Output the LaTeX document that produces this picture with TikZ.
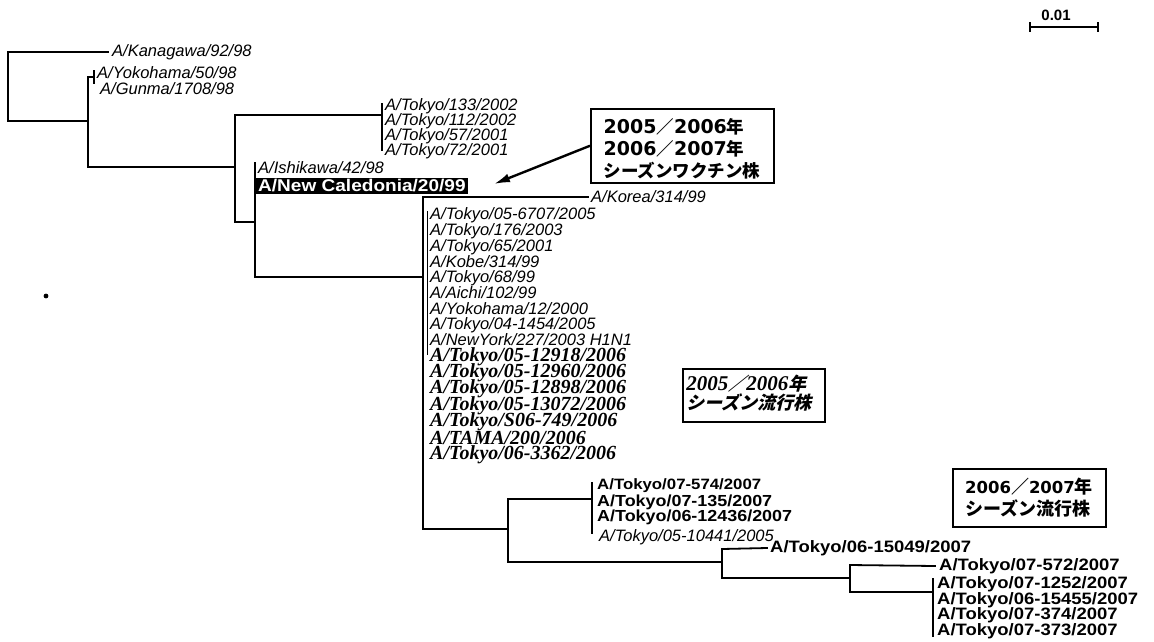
\documentclass[tikz,border=0pt]{standalone}
\usepackage{fontspec}
\usetikzlibrary{arrows.meta}
\setmainfont{Liberation Sans}
\newfontfamily\lsans{Liberation Sans}
\newfontfamily\lsw{Liberation Sans}[FakeStretch=1.12]
\newfontfamily\lserif{Liberation Serif}
\newfontfamily\dvb{DejaVu Sans}
\newfontfamily\cjk{Noto Sans CJK JP}
\newfontfamily\cjksl{Noto Sans CJK JP}[FakeSlant=0.25]
\begin{document}
\begin{tikzpicture}[x=1pt,y=-1pt,
  br/.style={line width=1.8pt, line cap=rect},
  thin br/.style={line width=1pt},
  it/.style={anchor=west, inner sep=0pt, font=\lsans\itshape\fontsize{16.5}{17}\selectfont},
  bs/.style={anchor=west, inner sep=0pt, font=\lsw\bfseries\fontsize{16}{17}\selectfont},
  bi/.style={anchor=west, inner sep=0pt, font=\lserif\bfseries\itshape\fontsize{20}{21}\selectfont},
  frame/.style={draw, line width=1.5pt, inner sep=0pt},
  boxtxt/.style={align=left, inner sep=0pt},
  arr/.style={line width=2.4pt, -{Latex[length=16pt,width=9pt]}}
]
\useasboundingbox (0,0) rectangle (1154,641);

% ---------- scale bar ----------
\node[inner sep=0pt, font=\lsans\bfseries\fontsize{15}{15}\selectfont] (scl) at (1056,15) {0.01};
\coordinate (sb1) at (1030,27);
\coordinate (sb2) at (1098,27);
\draw[line width=1.6pt] (sb1) -- (sb2);
\draw[line width=1.6pt] ([yshift=5pt]sb1) -- ([yshift=-5pt]sb1);
\draw[line width=1.6pt] ([yshift=5pt]sb2) -- ([yshift=-5pt]sb2);

% ---------- outgroup ----------
\node[it] (kan) at (112,52) {A/Kanagawa/92/98};
\node[it] (yok) at (97,73) {A/Yokohama/50/98};
\node[it] (gun) at (100,89) {A/Gunma/1708/98};
\coordinate (r0) at (8,52);
\coordinate (r1) at (8,121);
\coordinate (n1) at (88,121);
\coordinate (n1t) at (88,77);
\coordinate (n1b) at (88,167);
\coordinate (n2) at (94,77);
\draw[br] ([xshift=-4pt]kan.west) -- (r0) -- (r1) -- (n1);
\draw[br] (n1t) -- (n1b);
\draw[br] (n1t) -- (n2);
\draw[br] (94,71) -- (94,83);

% ---------- Tokyo 2001/2002 clade ----------
\coordinate (n3) at (235,167);
\coordinate (n3t) at (235,115);
\coordinate (n3b) at (235,222);
\coordinate (n4) at (382,115);
\draw[br] (n1b) -- (n3);
\draw[br] (n3t) -- (n3b);
\draw[br] (n3t) -- (n4);
\draw[br] (382,104) -- (382,150);
\node[it] (t1) at (385,106) {A/Tokyo/133/2002};
\node[it] (t2) at (385,121) {A/Tokyo/112/2002};
\node[it] (t3) at (385,136) {A/Tokyo/57/2001};
\node[it] (t4) at (385,151) {A/Tokyo/72/2001};

% ---------- New Caledonia node ----------
\coordinate (n5) at (255,222);
\coordinate (n5t) at (255,163);
\coordinate (n5b) at (255,277);
\draw[br] (n3b) -- (n5);
\draw[br] (n5t) -- (n5b);
\node[it] (ish) at (258,168) {A/Ishikawa/42/98};
\node[anchor=west, fill=black, text=white, inner xsep=2pt, inner ysep=2pt,
      font=\lsw\bfseries\fontsize{17}{17}\selectfont] (nc) at (256,186) {A/New Caledonia/20/99};

% ---------- 1999-2006 clade ----------
\coordinate (n6) at (423,277);
\coordinate (n6t) at (423,197);
\coordinate (n6b) at (423,529);
\draw[br] (n5b) -- (n6);
\draw[br] (n6t) -- (n6b);
\node[it] (kor) at (591,197) {A/Korea/314/99};
\draw[br] (n6t) -- ([xshift=-3pt]kor.west);
\draw[thin br] (427,211) -- (427,355);

\node[it] (p1) at (430,215) {A/Tokyo/05-6707/2005};
\node[it] (p2) at (430,231) {A/Tokyo/176/2003};
\node[it] (p3) at (430,247) {A/Tokyo/65/2001};
\node[it] (p4) at (430,262) {A/Kobe/314/99};
\node[it] (p5) at (430,278) {A/Tokyo/68/99};
\node[it] (p6) at (430,293) {A/Aichi/102/99};
\node[it] (p7) at (430,309) {A/Yokohama/12/2000};
\node[it] (p8) at (430,325) {A/Tokyo/04-1454/2005};
\node[it] (p9) at (430,340) {A/NewYork/227/2003 H1N1};
\node[bi] (q1) at (430,357) {A/Tokyo/05-12918/2006};
\node[bi] (q2) at (430,373) {A/Tokyo/05-12960/2006};
\node[bi] (q3) at (430,389) {A/Tokyo/05-12898/2006};
\node[bi] (q4) at (430,406) {A/Tokyo/05-13072/2006};
\node[bi] (q5) at (430,422) {A/Tokyo/S06-749/2006};
\node[bi] (q6) at (430,438) {A/TAMA/200/2006};
\node[bi] (q7) at (430,455) {A/Tokyo/06-3362/2006};

% ---------- 2007 clade ----------
\coordinate (n7) at (508,529);
\coordinate (n7t) at (508,499);
\coordinate (n7b) at (508,562);
\coordinate (n8) at (592,499);
\draw[br] (n6b) -- (n7);
\draw[br] (n7t) -- (n7b);
\draw[br] (n7t) -- (n8);
\draw[br] (592,483) -- (592,533);
\node[bs, font=\lsw\bfseries\fontsize{15}{16}\selectfont] (s1) at (597,486) {A/Tokyo/07-574/2007};
\node[bs] (s2) at (597,502) {A/Tokyo/07-135/2007};
\node[bs] (s3) at (597,517) {A/Tokyo/06-12436/2007};
\node[it] (s4) at (599,537) {A/Tokyo/05-10441/2005};

\coordinate (n9) at (722,562);
\coordinate (n9t) at (722,549);
\coordinate (n9b) at (722,578);
\draw[br] (n7b) -- (n9);
\draw[br] (n9t) -- (n9b);
\node[bs, font=\lsw\bfseries\fontsize{16.5}{17}\selectfont] (u1) at (770,548) {A/Tokyo/06-15049/2007};
\draw[br] (n9t) -- ([xshift=-3pt]u1.west);

\coordinate (n10) at (850,578);
\coordinate (n10t) at (850,565);
\coordinate (n10b) at (850,592);
\draw[br] (n9b) -- (n10);
\draw[br] (n10t) -- (n10b);
\node[bs, font=\lsw\bfseries\fontsize{16.5}{17}\selectfont] (v1) at (939,566) {A/Tokyo/07-572/2007};
\draw[br] (n10t) -- ([xshift=-4pt]v1.west);
\coordinate (n11) at (933,592);
\draw[br] (n10b) -- (n11);
\draw[br] (933,579) -- (933,636);
\node[bs, font=\lsw\bfseries\fontsize{16.5}{17}\selectfont] (w1) at (937,584) {A/Tokyo/07-1252/2007};
\node[bs, font=\lsw\bfseries\fontsize{16.5}{17}\selectfont] (w2) at (937,600) {A/Tokyo/06-15455/2007};
\node[bs, font=\lsw\bfseries\fontsize{16.5}{17}\selectfont] (w3) at (937,615) {A/Tokyo/07-374/2007};
\node[bs, font=\lsw\bfseries\fontsize{16.5}{17}\selectfont] (w4) at (937,631) {A/Tokyo/07-373/2007};

% ---------- annotation boxes ----------
\node[frame, anchor=north west, minimum width=183pt, minimum height=74pt] (box1) at (590,108) {};
\node[boxtxt, font=\fontsize{17.5}{22}\selectfont] (box1t) at (682,149)
  {{\dvb\bfseries\fontsize{19}{22}\selectfont 2005}{\cjk\bfseries ／}{\dvb\bfseries\fontsize{19}{22}\selectfont 2006}{\cjk\bfseries 年}\\
   {\dvb\bfseries\fontsize{19}{22}\selectfont 2006}{\cjk\bfseries ／}{\dvb\bfseries\fontsize{19}{22}\selectfont 2007}{\cjk\bfseries 年}\\
   {\cjk\bfseries シーズンワクチン株}};
\coordinate (tip) at (494,184);
\draw[arr] (box1.west) -- (tip);

\node[frame, anchor=north west, minimum width=142pt, minimum height=53pt] (box2) at (682,368) {};
\node[boxtxt, font=\fontsize{18}{19}\selectfont] (box2t) at (749,393)
  {{\lserif\bfseries\itshape\fontsize{21}{19}\selectfont 2005}{\cjksl\bfseries ／}{\lserif\bfseries\itshape\fontsize{21}{19}\selectfont 2006}{\cjksl\bfseries 年}\\
   {\cjksl\bfseries シーズン流行株}};

\node[frame, anchor=north west, minimum width=153pt, minimum height=58pt] (box3) at (952,468) {};
\node[boxtxt, font=\fontsize{18}{22}\selectfont] (box3t) at (1029,498)
  {{\dvb\bfseries\fontsize{16.5}{22}\selectfont 2006}{\cjk\bfseries ／}{\dvb\bfseries\fontsize{16.5}{22}\selectfont 2007}{\cjk\bfseries 年}\\
   {\cjk\bfseries シーズン流行株}};

% ---------- stray dot ----------
\fill (46,296) circle (2.4pt);
\end{tikzpicture}
\end{document}
